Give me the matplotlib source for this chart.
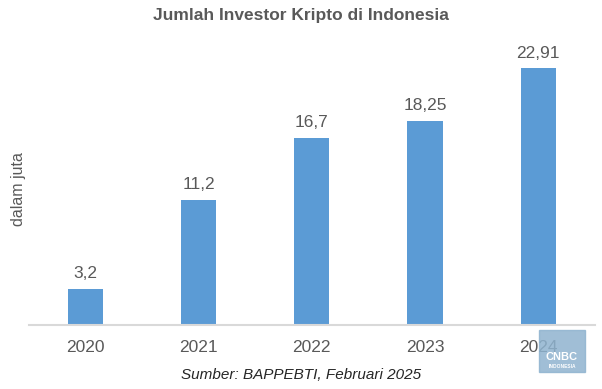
import matplotlib.pyplot as plt
from matplotlib.patches import Rectangle

plt.rcParams['font.family'] = ['Liberation Sans', 'DejaVu Sans']

tahun = ["2020", "2021", "2022", "2023", "2024"]
investor = [3.2, 11.2, 16.7, 18.25, 22.91]
label_nilai = ["3,2", "11,2", "16,7", "18,25", "22,91"]

abu = "#595959"
biru = "#5B9BD5"

fig = plt.figure(figsize=(6.02, 3.89), dpi=100)
ax = fig.add_axes([0.048, 0.1645, 0.940, 0.72])

x = range(len(tahun))
ax.bar(x, investor, width=0.31, color=biru, zorder=2)
for i, v in enumerate(investor):
    ax.text(i, v + 0.7, label_nilai[i], ha="center", va="bottom", fontsize=12.5, color=abu)

ax.set_xlim(-0.5, 4.5)
ax.set_ylim(0, 25)
ax.set_xticks(list(x))
ax.set_xticklabels(tahun, fontsize=12.5, color=abu)
ax.tick_params(axis="x", length=0, pad=11)
ax.set_yticks([])
for s in ["top", "right", "left"]:
    ax.spines[s].set_visible(False)
ax.spines["bottom"].set_color("#D9D9D9")
ax.spines["bottom"].set_linewidth(1.5)

fig.text(0.5, 0.960, "Jumlah Investor Kripto di Indonesia", ha="center", va="center",
         fontsize=12.5, fontweight="bold", color=abu)
fig.text(0.030, 0.514, "dalam juta", rotation=90, ha="center", va="center",
         fontsize=11.5, color=abu)
fig.text(0.5, 0.036, "Sumber: BAPPEBTI, Februari 2025", ha="center", va="center",
         fontsize=11, style="italic", color="#262626")

# logo CNBC (perkiraan)
fig.patches.append(Rectangle((539 / 602, 1 - 372 / 389), 46 / 602, 42 / 389,
                             transform=fig.transFigure, color="#8FB3CF", alpha=0.85, zorder=5))
fig.text(562 / 602, 1 - 357 / 389, "CNBC", ha="center", va="center", fontsize=8,
         fontweight="bold", color="white", zorder=6)
fig.text(562 / 602, 1 - 366 / 389, "INDONESIA", ha="center", va="center", fontsize=3.5,
         fontweight="bold", color="white", zorder=6)

fig.savefig("out.png", dpi=100)
